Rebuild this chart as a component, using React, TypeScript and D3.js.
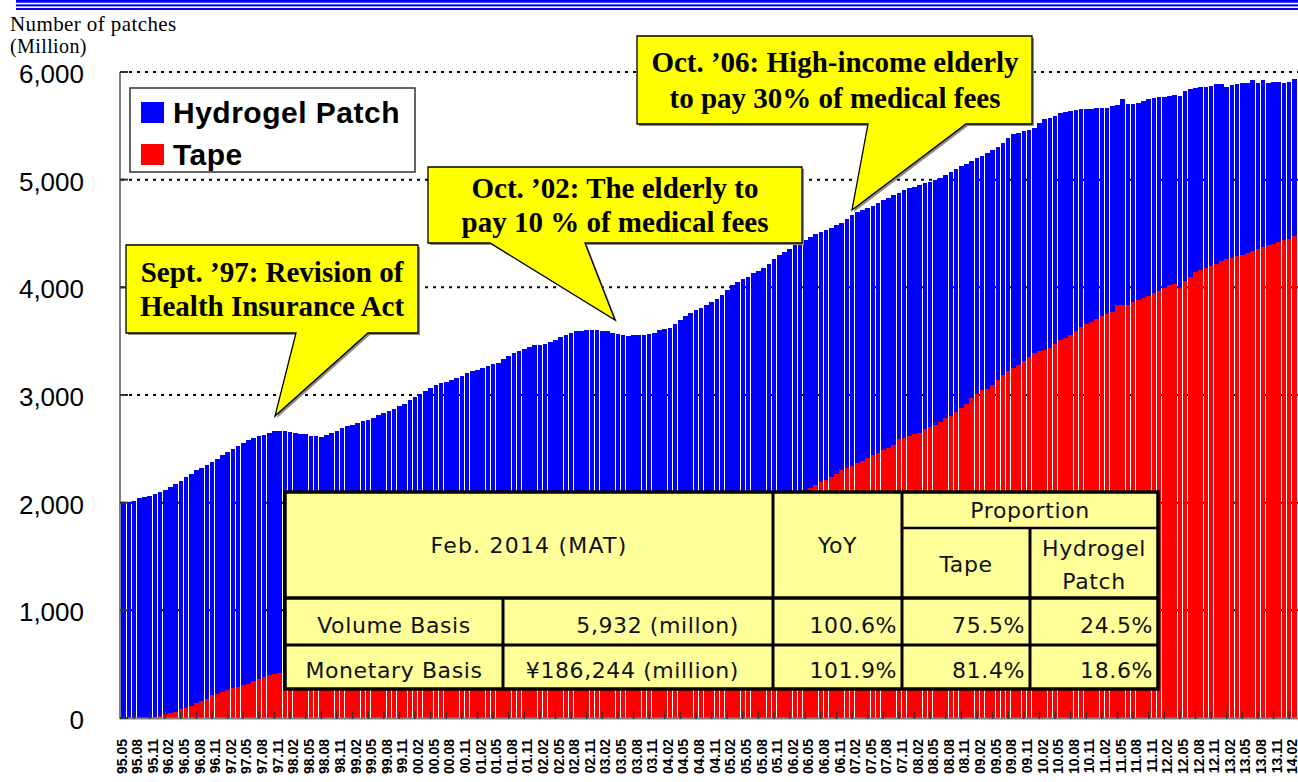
import React from "react";
import * as d3 from "d3";

const width = 1298;
const height = 782;
const plot = { left: 121, right: 1297, top: 72, bottom: 718 };

// MAT volume, million patches, monthly from 1995.05 to 2014.02
const startYear = 1995;
const startMonth = 5;

const totalVolume = [
  2000, 2005, 2020, 2040, 2050, 2065, 2080, 2100, // 1995
  2120, 2150, 2170, 2200, 2240, 2270, 2300, 2320, 2350, 2380, 2410, 2440,
  2470, 2500, 2530, 2555, 2580, 2600, 2615, 2630, 2650, 2665, 2670, 2665,
  2655, 2650, 2640, 2635, 2620, 2615, 2612, 2625, 2650, 2670, 2690, 2710,
  2725, 2740, 2755, 2770, 2790, 2810, 2830, 2850, 2870, 2900, 2920, 2950,
  2980, 3010, 3040, 3065, 3090, 3110, 3125, 3140, 3160, 3180, 3200, 3220, // 2000
  3235, 3250, 3265, 3285, 3300, 3330, 3360, 3390, 3410, 3430, 3450, 3460,
  3465, 3475, 3490, 3515, 3540, 3555, 3575, 3590, 3595, 3600, 3600, 3600,
  3595, 3590, 3580, 3565, 3555, 3550, 3555, 3555, 3560, 3570, 3580, 3600,
  3612, 3620, 3660, 3700, 3730, 3760, 3785, 3810, 3840, 3865, 3890, 3930,
  3975, 4020, 4045, 4075, 4100, 4130, 4155, 4180, 4220, 4260, 4300, 4330, // 2005
  4360, 4390, 4415, 4440, 4470, 4495, 4510, 4530, 4555, 4580, 4600, 4635,
  4670, 4700, 4720, 4740, 4760, 4785, 4810, 4830, 4855, 4880, 4900, 4920,
  4935, 4950, 4965, 4980, 5000, 5020, 5045, 5070, 5100, 5125, 5150, 5175,
  5200, 5220, 5250, 5280, 5305, 5345, 5385, 5420, 5435, 5450, 5460, 5480,
  5530, 5560, 5575, 5595, 5620, 5630, 5640, 5650, 5655, 5660, 5660, 5665, // 2010
  5665, 5670, 5680, 5690, 5750, 5700, 5700, 5710, 5730, 5745, 5760, 5765,
  5770, 5780, 5790, 5775, 5820, 5840, 5850, 5865, 5865, 5870, 5885, 5885,
  5862, 5880, 5890, 5895, 5900, 5925, 5900, 5925, 5900, 5905, 5910, 5900,
  5905, 5932, // 2014
];

const tapeVolume = [
  0, 0, 0, 0, 0, 0, 8, 20, // 1995
  35, 48, 60, 80, 95, 115, 140, 155, 175, 210, 225, 245,
  262, 278, 292, 306, 320, 340, 365, 380, 395, 405, 418, 435,
  448, 460, 470, 486, 497, 510, 526, 535, 550, 566, 575, 592,
  604, 612, 630, 645, 655, 672, 683, 700, 710, 728, 738, 755,
  770, 780, 798, 810, 828, 840, 858, 870, 888, 900, 918, 930, // 2000
  950, 962, 980, 993, 1012, 1025, 1046, 1058, 1078, 1092, 1112, 1126,
  1147, 1160, 1182, 1196, 1218, 1232, 1255, 1268, 1290, 1306, 1330, 1344,
  1366, 1382, 1405, 1420, 1445, 1460, 1484, 1500, 1525, 1540, 1565, 1582,
  1607, 1624, 1650, 1666, 1692, 1710, 1736, 1754, 1780, 1798, 1825, 1842,
  1866, 1885, 1906, 1924, 1946, 1962, 1984, 1998, 2015, 2030, 2045, 2058, // 2005
  2068, 2080, 2092, 2110, 2138, 2165, 2194, 2215, 2240, 2270, 2300, 2320,
  2345, 2370, 2390, 2415, 2440, 2465, 2490, 2510, 2540, 2590, 2600, 2620,
  2640, 2650, 2680, 2700, 2720, 2750, 2790, 2806, 2840, 2880, 2920, 2973,
  3010, 3045, 3060, 3092, 3140, 3185, 3220, 3250, 3278, 3320, 3350, 3389,
  3410, 3420, 3435, 3470, 3510, 3530, 3556, 3590, 3633, 3660, 3680, 3710, // 2010
  3732, 3750, 3772, 3835, 3835, 3835, 3860, 3880, 3902, 3915, 3945, 3970,
  3995, 4020, 4030, 3995, 4060, 4100, 4140, 4160, 4180, 4200, 4220, 4240,
  4260, 4270, 4290, 4300, 4320, 4340, 4355, 4373, 4390, 4405, 4420, 4435,
  4450, 4479, // 2014
];

const yTicks = [0, 1000, 2000, 3000, 4000, 5000, 6000];

const months = totalVolume.map((_, i) => {
  const m = startMonth - 1 + i;
  const yr = startYear + Math.floor(m / 12);
  const mm = (m % 12) + 1;
  return `${String(yr % 100).padStart(2, "0")}.${String(mm).padStart(2, "0")}`;
});

const rows = months.map((month, i) => ({
  month,
  tape: tapeVolume[i],
  hydrogel: totalVolume[i] - tapeVolume[i],
}));

const seriesKeys = ["tape", "hydrogel"];
const seriesColors = { tape: "#FF0000", hydrogel: "#0000FF" };

const tableRows = [
  { label: "Volume Basis", value: "5,932 (millon)", yoy: "100.6%", tape: "75.5%", hydrogel: "24.5%" },
  { label: "Monetary Basis", value: "¥186,244 (million)", yoy: "101.9%", tape: "81.4%", hydrogel: "18.6%" },
];

const callouts = [
  { lines: ["Sept. ’97: Revision of", "Health Insurance Act"] },
  { lines: ["Oct. ’02: The elderly to", "pay 10 % of medical fees"] },
  { lines: ["Oct. ’06: High-income elderly", "to pay 30% of medical fees"] },
];

const tableFont = "'DejaVu Sans', Verdana, sans-serif";
const serif = "'Liberation Serif', 'Times New Roman', serif";
const sans = "'Liberation Sans', Arial, sans-serif";

function Callout({ path, cx, y1, y2, lines }) {
  return (
    <g>
      <path d={path} transform="translate(2,2)" fill="#8c8c8c" />
      <path d={path} fill="#FFFF00" stroke="#000" strokeWidth={1.3} />
      <text x={cx} y={y1} textAnchor="middle" fontFamily={serif} fontWeight="bold" fontSize={29}>
        {lines[0]}
      </text>
      <text x={cx} y={y2} textAnchor="middle" fontFamily={serif} fontWeight="bold" fontSize={29}>
        {lines[1]}
      </text>
    </g>
  );
}

function DataTable() {
  const cols = [285, 503, 773, 902, 1030, 1158];
  const rowsY = [492, 528, 598, 645, 689];
  const fill = "#FFFF99";
  const t = { fontFamily: tableFont, fontSize: 22, letterSpacing: 0.6, fill: "#111" };
  const rowMid = [625, 670];
  return (
    <g>
      <rect x={cols[0]} y={rowsY[0]} width={cols[5] - cols[0]} height={rowsY[4] - rowsY[0]} fill={fill} />
      {/* inner lines */}
      <line x1={cols[3]} x2={cols[5]} y1={rowsY[1]} y2={rowsY[1]} stroke="#000" strokeWidth={2.5} />
      <line x1={cols[0]} x2={cols[5]} y1={rowsY[2]} y2={rowsY[2]} stroke="#000" strokeWidth={3.5} />
      <line x1={cols[0]} x2={cols[5]} y1={rowsY[3]} y2={rowsY[3]} stroke="#000" strokeWidth={3} />
      <line x1={cols[1]} x2={cols[1]} y1={rowsY[2]} y2={rowsY[4]} stroke="#000" strokeWidth={3} />
      <line x1={cols[2]} x2={cols[2]} y1={rowsY[0]} y2={rowsY[4]} stroke="#000" strokeWidth={3} />
      <line x1={cols[3]} x2={cols[3]} y1={rowsY[0]} y2={rowsY[4]} stroke="#000" strokeWidth={3} />
      <line x1={cols[4]} x2={cols[4]} y1={rowsY[1]} y2={rowsY[4]} stroke="#000" strokeWidth={3} />
      <rect x={cols[0]} y={rowsY[0]} width={cols[5] - cols[0]} height={rowsY[4] - rowsY[0]} fill="none" stroke="#000" strokeWidth={3.5} />

      <text {...t} letterSpacing={1.2} x={(cols[0] + cols[2]) / 2} y={545} textAnchor="middle" dominantBaseline="central">Feb. 2014 (MAT)</text>
      <text {...t} x={(cols[2] + cols[3]) / 2} y={545} textAnchor="middle" dominantBaseline="central">YoY</text>
      <text {...t} x={(cols[3] + cols[5]) / 2} y={510} textAnchor="middle" dominantBaseline="central">Proportion</text>
      <text {...t} x={(cols[3] + cols[4]) / 2} y={564} textAnchor="middle" dominantBaseline="central">Tape</text>
      <text {...t} x={(cols[4] + cols[5]) / 2} y={548} textAnchor="middle" dominantBaseline="central">Hydrogel</text>
      <text {...t} x={(cols[4] + cols[5]) / 2} y={581} textAnchor="middle" dominantBaseline="central">Patch</text>

      {tableRows.map((r, i) => (
        <g key={r.label}>
          <text {...t} x={(cols[0] + cols[1]) / 2} y={rowMid[i]} textAnchor="middle" dominantBaseline="central">{r.label}</text>
          <text {...t} x={cols[2] - 34} y={rowMid[i]} textAnchor="end" dominantBaseline="central">{r.value}</text>
          <text {...t} x={cols[3] - 5} y={rowMid[i]} textAnchor="end" dominantBaseline="central">{r.yoy}</text>
          <text {...t} x={cols[4] - 5} y={rowMid[i]} textAnchor="end" dominantBaseline="central">{r.tape}</text>
          <text {...t} x={cols[5] - 5} y={rowMid[i]} textAnchor="end" dominantBaseline="central">{r.hydrogel}</text>
        </g>
      ))}
    </g>
  );
}

export default function App() {
  const x = d3.scaleBand().domain(months).range([plot.left, plot.right]).paddingInner(0.12).paddingOuter(0.06);
  const y = d3.scaleLinear().domain([0, 6000]).range([plot.bottom, plot.top]);
  const stacked = d3.stack().keys(seriesKeys)(rows);
  const bw = x.bandwidth();

  return (
    <svg width={width} height={height} style={{ position: "absolute", left: 0, top: 0, background: "#fff" }}>
      {/* header rule */}
      <rect x={16} y={0} width={width - 16} height={2.7} fill="#0000FF" />
      <rect x={16} y={4.4} width={width - 16} height={2} fill="#0000FF" />
      <rect x={16} y={8} width={width - 16} height={2} fill="#0000FF" />

      {/* axis title */}
      <text x={10} y={31} fontFamily={serif} fontSize={21} letterSpacing={0.4}>Number of patches</text>
      <text x={10} y={53} fontFamily={serif} fontSize={20} letterSpacing={0.4}>(Million)</text>

      {/* grid */}
      {yTicks.filter(d => d > 0).map(d => (
        <line key={d} x1={plot.left} x2={width} y1={y(d)} y2={y(d)} stroke="#000" strokeWidth={2} strokeDasharray="3,5" />
      ))}

      {/* bars */}
      {stacked.map(layer => (
        <g key={layer.key} fill={seriesColors[layer.key]} shapeRendering="crispEdges">
          {layer.map((d, i) => (
            <rect key={i} x={x(d.data.month)} width={bw} y={y(d[1])} height={Math.max(0, y(d[0]) - y(d[1]))} />
          ))}
        </g>
      ))}

      {/* axes */}
      <line x1={120} x2={120} y1={plot.top} y2={plot.bottom + 1} stroke="#808080" strokeWidth={2} />
      <line x1={120} x2={width} y1={plot.bottom + 0.5} y2={plot.bottom + 0.5} stroke="#808080" strokeWidth={2} />
      {yTicks.map(d => (
        <g key={d}>
          <line x1={120} x2={128} y1={y(d)} y2={y(d)} stroke="#333" strokeWidth={2} />
          <text x={84} y={y(d) + 11} textAnchor="end" fontFamily={sans} fontSize={26}>
            {d3.format(",")(d)}
          </text>
        </g>
      ))}
      {months.map((m, i) =>
        i % 3 === 2 ? (
          <line key={"t" + m} x1={x(m) + bw / 2} x2={x(m) + bw / 2} y1={711} y2={719} stroke="#333" strokeWidth={1.5} />
        ) : null
      )}
      {months.map((m, i) =>
        i % 3 === 0 ? (
          <text
            key={m}
            transform={`translate(${x(m) + bw / 2 - 2},739) rotate(-90)`}
            textAnchor="end"
            dy="0.35em"
            fontFamily={sans}
            fontWeight="bold"
            fontSize={14}
          >
            {m}
          </text>
        ) : null
      )}

      {/* legend */}
      <rect x={130} y={88} width={285} height={84} fill="#fff" stroke="#333" strokeWidth={1.5} />
      <rect x={141} y={102} width={23} height={21} fill={seriesColors.hydrogel} />
      <rect x={141} y={144} width={23} height={21} fill={seriesColors.tape} />
      <text x={173} y={123} fontFamily={sans} fontWeight="bold" fontSize={30} letterSpacing={0.5}>Hydrogel Patch</text>
      <text x={173} y={165} fontFamily={sans} fontWeight="bold" fontSize={30} letterSpacing={0.5}>Tape</text>

      {/* callouts */}
      <Callout path="M126,245 H418 V333 H368 L275,416 L296,333 H126 Z" cx={272} y1={282} y2={316} lines={callouts[0].lines} />
      <Callout path="M428,167 H802 V243 H585 L615,320 L490,243 H428 Z" cx={615} y1={198} y2={232} lines={callouts[1].lines} />
      <Callout path="M637,36 H1032 V124 H966 L852,210 L868,124 H637 Z" cx={835} y1={72} y2={108} lines={callouts[2].lines} />

      <DataTable />
    </svg>
  );
}
